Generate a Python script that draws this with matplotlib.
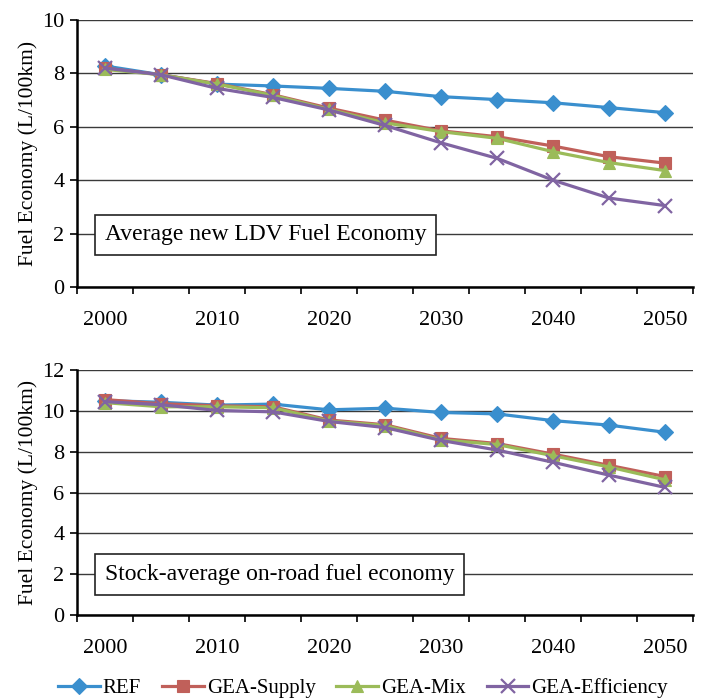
import matplotlib
matplotlib.use('Agg')
import matplotlib.pyplot as plt

years = [2000, 2005, 2010, 2015, 2020, 2025, 2030, 2035, 2040, 2045, 2050]
series_names = ['REF', 'GEA-Supply', 'GEA-Mix', 'GEA-Efficiency']

# panel 1: average new LDV fuel economy (L/100km)
new_ref = [8.28, 7.95, 7.60, 7.53, 7.44, 7.33, 7.13, 7.02, 6.90, 6.72, 6.53]
new_supply = [8.20, 7.95, 7.62, 7.20, 6.70, 6.25, 5.85, 5.63, 5.28, 4.88, 4.64]
new_mix = [8.15, 7.95, 7.60, 7.18, 6.65, 6.15, 5.82, 5.57, 5.07, 4.66, 4.36]
new_eff = [8.20, 7.95, 7.44, 7.10, 6.63, 6.05, 5.40, 4.82, 4.00, 3.33, 3.05]

# panel 2: stock-average on-road fuel economy (L/100km)
stock_ref = [10.50, 10.42, 10.28, 10.33, 10.05, 10.13, 9.92, 9.85, 9.52, 9.30, 8.95]
stock_supply = [10.55, 10.35, 10.25, 10.20, 9.55, 9.32, 8.65, 8.40, 7.88, 7.33, 6.78]
stock_mix = [10.40, 10.20, 10.20, 10.15, 9.50, 9.28, 8.58, 8.35, 7.80, 7.25, 6.62]
stock_eff = [10.45, 10.30, 10.02, 9.95, 9.48, 9.18, 8.55, 8.08, 7.48, 6.85, 6.25]

colors = ['#3A8FCE', '#C0605A', '#9BBB59', '#8064A2']
markers = ['D', 's', '^', 'x']
msizes = [8.5, 8, 9, 9.5]

plt.rcParams['font.family'] = ['Liberation Serif', 'DejaVu Serif']

fig = plt.figure(figsize=(7.05, 6.98), dpi=100)
ax1 = fig.add_axes([0.1092, 0.5888, 0.874, 0.3825])
ax2 = fig.add_axes([0.1092, 0.1189, 0.874, 0.351])

panels = [
    (ax1, [new_ref, new_supply, new_mix, new_eff], 10, 'Average new LDV Fuel Economy', 0.045, 0.195),
    (ax2, [stock_ref, stock_supply, stock_mix, stock_eff], 12, 'Stock-average on-road fuel economy', 0.045, 0.165),
]

x = list(range(len(years)))
for ax, data, ymax, title, tx, ty in panels:
    for vals, name, c, m, ms in zip(data, series_names, colors, markers, msizes):
        ax.plot(x, vals, color=c, marker=m, markersize=ms, linewidth=2.3,
                markeredgewidth=1.6 if m == 'x' else 0.8, label=name, zorder=3)
    ax.set_xlim(-0.5, len(years) - 0.5)
    ax.set_ylim(0, ymax)
    ax.set_yticks(range(0, ymax + 1, 2))
    ax.yaxis.grid(True, color='#3a3a3a', linewidth=1.0)
    ax.set_axisbelow(True)
    # boundary ticks between categories, labels every other year
    ax.set_xticks([i - 0.5 for i in range(len(years) + 1)])
    ax.set_xticklabels([])
    ax.set_xticks(x[::2], minor=True)
    ax.set_xticklabels([str(y) for y in years[::2]], minor=True)
    ax.tick_params(axis='x', which='minor', length=0, pad=17, labelsize=16)
    ax.tick_params(axis='x', which='major', length=5, width=1.2, direction='out')
    ax.tick_params(axis='y', length=5, width=1.2, direction='out', labelsize=16, pad=4)
    for s in ['top', 'right']:
        ax.spines[s].set_visible(False)
    for s in ['left', 'bottom']:
        ax.spines[s].set_linewidth(1.8)
    ax.set_ylabel('Fuel Economy (L/100km)', fontsize=15.5, labelpad=3)
    ax.text(tx, ty, title, transform=ax.transAxes, fontsize=17, va='center', ha='left',
            zorder=4, bbox=dict(boxstyle='square,pad=0.42', facecolor='white',
                                edgecolor='#222222', linewidth=1.2))

handles, labels = ax1.get_legend_handles_labels()
fig.legend(handles, labels, loc='center', bbox_to_anchor=(0.515, 0.014), ncol=4,
           frameon=False, fontsize=15, handlelength=2.0, handletextpad=0.15,
           columnspacing=1.0, borderpad=0.1)

fig.savefig('out.png', dpi=100)
